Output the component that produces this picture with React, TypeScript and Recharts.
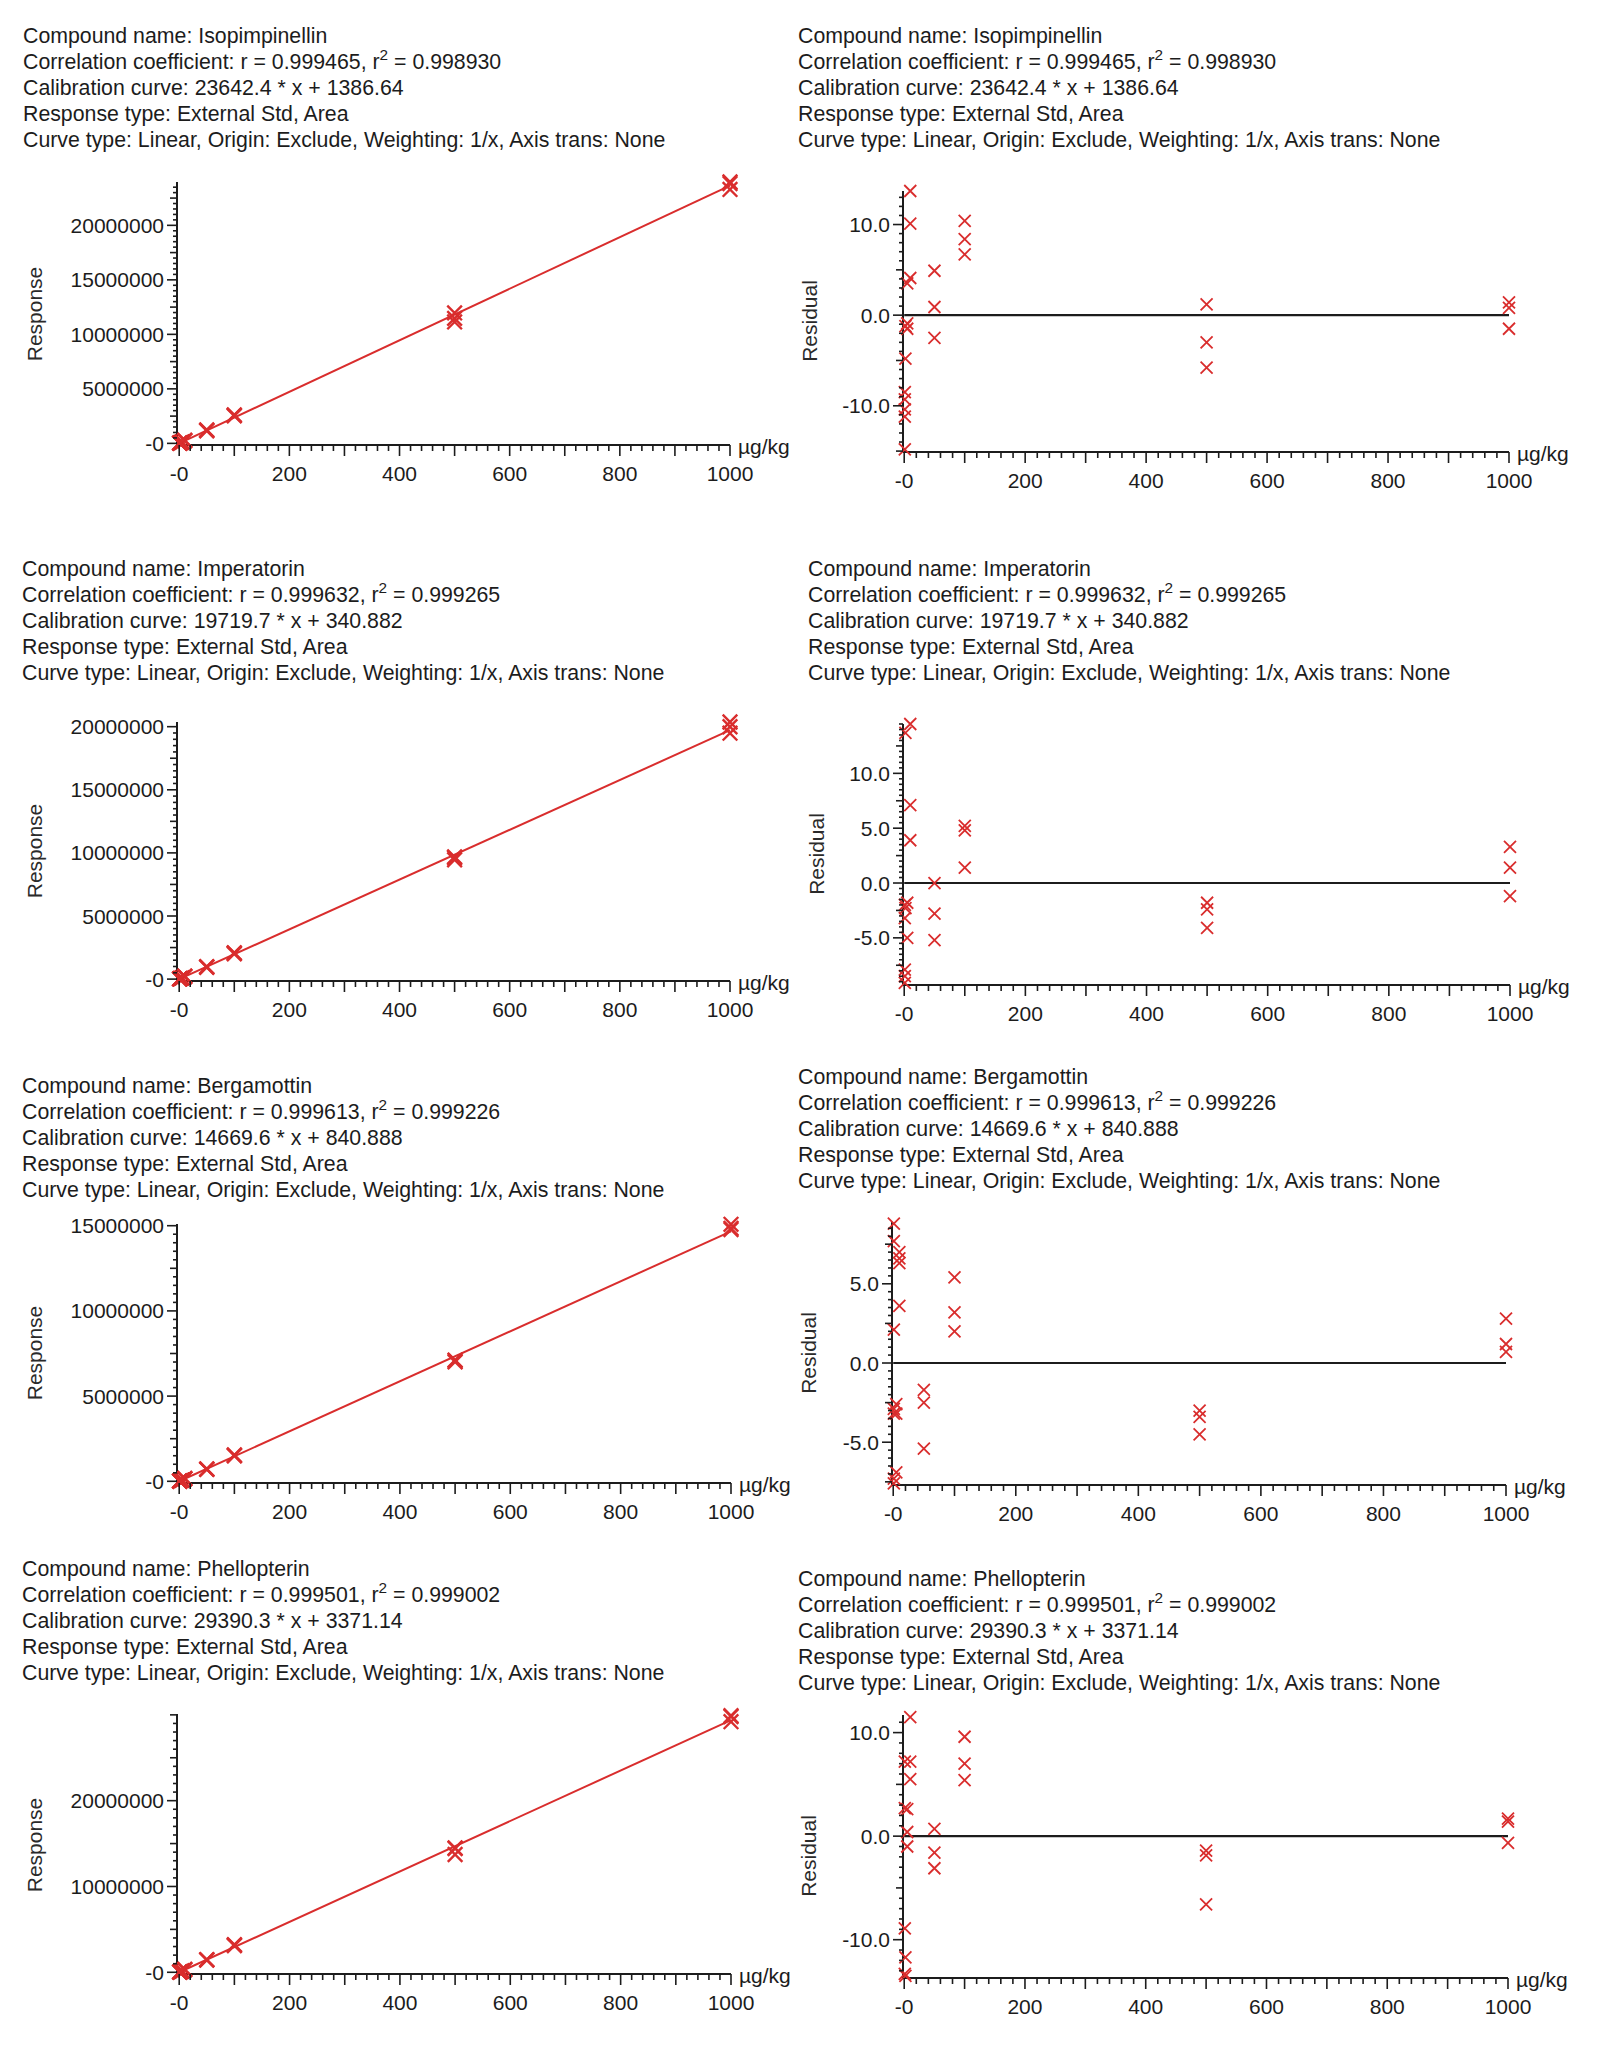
import React from 'react';
import { ScatterChart, Scatter, XAxis, YAxis, ReferenceLine } from 'recharts';

// ---------------- data ----------------
const compounds = ['Isopimpinellin', 'Imperatorin', 'Bergamottin', 'Phellopterin'];
const correlationR = ['0.999465', '0.999632', '0.999613', '0.999501'];
const correlationR2 = ['0.998930', '0.999265', '0.999226', '0.999002'];
const slopeLabels = ['23642.4', '19719.7', '14669.6', '29390.3'];
const interceptLabels = ['1386.64', '340.882', '840.888', '3371.14'];
const slopes = [23642.4, 19719.7, 14669.6, 29390.3];
const intercepts = [1386.64, 340.882, 840.888, 3371.14];

// Isopimpinellin
const isoConc = [10, 10, 10, 5, 5, 5, 2, 2, 1, 1, 1, 1, 1, 50, 50, 50, 100, 100, 100, 500, 500, 500, 1000, 1000, 1000];
const isoResponse = [270391, 261829, 247561, 123785, 118522, 117805, 48087, 46335, 22902, 22701, 22426, 22226, 21325, 1241498, 1194158, 1153919, 2611652, 2564339, 2524124, 11964458, 11467909, 11136877, 23974800, 23832937, 23289130];
const isoResidual = [13.7, 10.1, 4.1, 3.5, -0.9, -1.5, -1.2, -4.8, -8.5, -9.3, -10.4, -11.2, -14.8, 4.9, 0.9, -2.5, 10.4, 8.4, 6.7, 1.2, -3.0, -5.8, 1.4, 0.8, -1.5];

// Imperatorin
const impConc = [10, 2, 10, 10, 5, 1, 2, 1, 5, 1, 1, 1, 50, 50, 50, 100, 100, 100, 500, 500, 500, 1000, 1000, 1000];
const impResponse = [226181, 45230, 211563, 205242, 97158, 19660, 38865, 19419, 93992, 18476, 18356, 18236, 986326, 958709, 935037, 2074871, 2066982, 1999923, 9682708, 9623546, 9455923, 20370802, 19996122, 19483401];
const impResidual = [14.5, 13.7, 7.1, 3.9, -1.8, -2.0, -2.3, -3.2, -5.0, -7.9, -8.5, -9.1, 0.0, -2.8, -5.2, 5.2, 4.8, 1.4, -1.8, -2.4, -4.1, 3.3, 1.4, -1.2];

// Bergamottin
const berConc = [1, 1, 10, 10, 10, 10, 1, 5, 1, 5, 1, 5, 1, 1, 50, 50, 50, 100, 100, 100, 500, 500, 500, 1000, 1000, 1000];
const berResponse = [16875, 16704, 157865, 157274, 156832, 152848, 15836, 72260, 15061, 71815, 15014, 69070, 14378, 14332, 721838, 715963, 694668, 1547062, 1514770, 1497157, 7115572, 7086229, 7005537, 15081213, 14846486, 14773134];
const berResidual = [8.8, 7.7, 7.0, 6.6, 6.3, 3.6, 2.1, -2.6, -2.9, -3.2, -3.2, -6.9, -7.3, -7.6, -1.7, -2.5, -5.4, 5.4, 3.2, 2.0, -3.0, -3.4, -4.5, 2.8, 1.2, 0.7];

// Phellopterin
const phelConc = [10, 1, 10, 10, 1, 5, 5, 5, 1, 2, 1, 2, 50, 50, 50, 100, 100, 100, 500, 500, 500, 1000, 1000, 1000];
const phelResponse = [331461, 35120, 318678, 313624, 33646, 154231, 150924, 148820, 29845, 54880, 28404, 53761, 1483196, 1449320, 1427226, 3224872, 3148369, 3101291, 14492742, 14426600, 13728419, 29893363, 29805182, 29202612];
const phelResidual = [11.5, 7.2, 7.2, 5.5, 2.7, 2.6, 0.4, -1.0, -8.9, -11.7, -13.3, -13.5, 0.7, -1.6, -3.1, 9.6, 7.0, 5.4, -1.4, -1.85, -6.6, 1.7, 1.4, -0.65];

// tick labels
const concTickLabels = [0, 200, 400, 600, 800, 1000];
const isoResponseTicks = [0, 5000000, 10000000, 15000000, 20000000];
const impResponseTicks = [0, 5000000, 10000000, 15000000, 20000000];
const berResponseTicks = [0, 5000000, 10000000, 15000000];
const phelResponseTicks = [0, 10000000, 20000000];
const isoResidualTicks = [-10, 0, 10];
const impResidualTicks = [-5, 0, 5, 10];
const berResidualTicks = [-5, 0, 5];
const phelResidualTicks = [-10, 0, 10];

// ---------------- styling / layout ----------------
const FONT = '"Liberation Sans", Arial, Helvetica, sans-serif';
const RED = '#d92d2d';
const INK = '#1c1c1c';

type Rect = { left: number; right: number; top: number; bottom: number };
type Layout = {
  plot: Rect;
  xMin: number;
  yDomain: [number, number];
  minorStep: number;
  midStep: number;
  textX: number;
  textY: number;
  titleX: number;
  titleY: number;
};

const leftLayouts: Layout[] = [
  { plot: { left: 177, right: 730, top: 182, bottom: 445 }, xMin: -4, yDomain: [-150000, 23900000], minorStep: 500000, midStep: 2500000, textX: 23, textY: 37, titleX: 35, titleY: 314 },
  { plot: { left: 177, right: 730, top: 722, bottom: 981 }, xMin: -4, yDomain: [-150000, 20300000], minorStep: 500000, midStep: 2500000, textX: 22, textY: 570, titleX: 35, titleY: 851 },
  { plot: { left: 177, right: 731, top: 1224, bottom: 1483 }, xMin: -4, yDomain: [-100000, 15100000], minorStep: 500000, midStep: 2500000, textX: 22, textY: 1087, titleX: 35, titleY: 1353 },
  { plot: { left: 177, right: 731, top: 1714, bottom: 1974 }, xMin: -4, yDomain: [-200000, 30100000], minorStep: 1000000, midStep: 5000000, textX: 22, textY: 1570, titleX: 35, titleY: 1845 },
];

const rightLayouts: Layout[] = [
  { plot: { left: 903, right: 1509, top: 191, bottom: 452 }, xMin: -2, yDomain: [-15.1, 13.6], minorStep: 1, midStep: 5, textX: 798, textY: 37, titleX: 810, titleY: 321 },
  { plot: { left: 903, right: 1510, top: 724, bottom: 985 }, xMin: -2, yDomain: [-9.3, 14.5], minorStep: 0.5, midStep: 2.5, textX: 808, textY: 570, titleX: 817, titleY: 854 },
  { plot: { left: 892, right: 1506, top: 1222, bottom: 1485 }, xMin: -2, yDomain: [-7.7, 8.9], minorStep: 0.5, midStep: 2.5, textX: 798, textY: 1078, titleX: 809, titleY: 1353 },
  { plot: { left: 903, right: 1508, top: 1715, bottom: 1978 }, xMin: -2, yDomain: [-13.7, 11.7], minorStep: 1, midStep: 5, textX: 798, textY: 1580, titleX: 809, titleY: 1856 },
];

const concs = [isoConc, impConc, berConc, phelConc];
const responses = [isoResponse, impResponse, berResponse, phelResponse];
const residuals = [isoResidual, impResidual, berResidual, phelResidual];
const responseTicks = [isoResponseTicks, impResponseTicks, berResponseTicks, phelResponseTicks];
const residualTicks = [isoResidualTicks, impResidualTicks, berResidualTicks, phelResidualTicks];

// ---------------- helpers ----------------
function stepTicks(lo: number, hi: number, step: number): number[] {
  const out: number[] = [];
  const k0 = Math.ceil(lo / step - 1e-9);
  const k1 = Math.floor(hi / step + 1e-9);
  for (let k = k0; k <= k1; k++) out.push(Math.round(k * step * 1e6) / 1e6);
  return out;
}
const isMultiple = (v: number, step: number) => Math.abs(v / step - Math.round(v / step)) < 1e-6;
const inList = (list: number[], v: number) => list.some((l) => Math.abs(l - v) < 1e-9);

const xTickValues = stepTicks(0, 1000, 20);

const renderXTick = (props: any) => {
  const { x, y, payload } = props;
  const v = payload.value as number;
  const labeled = inList(concTickLabels, v);
  const len = labeled || isMultiple(v, 100) ? 11 : 6;
  return (
    <g>
      <line x1={x} x2={x} y1={y} y2={y + len} stroke={INK} strokeWidth={1.6} />
      {labeled && (
        <text x={x} y={y + 36} textAnchor="middle" fontSize={21} fontFamily={FONT} fill={INK}>
          {v === 0 ? '-0' : String(v)}
        </text>
      )}
    </g>
  );
};

const makeYTick = (labels: number[], midStep: number, fmt: (v: number) => string) => (props: any) => {
  const { x, y, payload } = props;
  const v = payload.value as number;
  const labeled = inList(labels, v);
  const len = labeled ? 10 : isMultiple(v, midStep) ? 7 : 4;
  return (
    <g>
      <line x1={x - len} x2={x} y1={y} y2={y} stroke={INK} strokeWidth={1.6} />
      {labeled && (
        <text x={x - 13} y={y + 7.5} textAnchor="end" fontSize={21} fontFamily={FONT} fill={INK}>
          {fmt(v)}
        </text>
      )}
    </g>
  );
};

const makeCross = (half: number, sw: number) => (props: any) => {
  const { cx, cy } = props;
  if (cx == null || cy == null) return <g />;
  return (
    <path
      d={`M${cx - half},${cy - half}L${cx + half},${cy + half}M${cx - half},${cy + half}L${cx + half},${cy - half}`}
      stroke={RED}
      strokeWidth={sw}
      fill="none"
    />
  );
};

const fmtResponse = (v: number) => (v === 0 ? '-0' : String(v));
const fmtResidual = (v: number) => (Math.abs(v) < 1e-9 ? '0.0' : v.toFixed(1));

// ---------------- components ----------------
function InfoBlock({ i, x, y }: { i: number; x: number; y: number }) {
  const lineH = 25.6;
  return (
    <div
      style={{
        position: 'absolute',
        left: x,
        top: y - lineH / 2,
        fontFamily: FONT,
        fontSize: 21.3,
        lineHeight: `${lineH}px`,
        color: INK,
        whiteSpace: 'nowrap',
      }}
    >
      <div>Compound name: {compounds[i]}</div>
      <div>
        Correlation coefficient: r = {correlationR[i]}, r
        <span style={{ fontSize: '0.72em', position: 'relative', top: '-0.55em' }}>2</span> = {correlationR2[i]}
      </div>
      <div>
        Calibration curve: {slopeLabels[i]} * x + {interceptLabels[i]}
      </div>
      <div>Response type: External Std, Area</div>
      <div>Curve type: Linear, Origin: Exclude, Weighting: 1/x, Axis trans: None</div>
    </div>
  );
}

function AxisTitle({ text, x, y }: { text: string; x: number; y: number }) {
  return (
    <div
      style={{
        position: 'absolute',
        left: x,
        top: y,
        transform: 'translate(-50%, -50%) rotate(-90deg)',
        fontFamily: FONT,
        fontSize: 21,
        lineHeight: '24px',
        color: '#2a2a2a',
        whiteSpace: 'nowrap',
      }}
    >
      {text}
    </div>
  );
}

function Plot({
  layout,
  points,
  yLabels,
  fmt,
  kind,
  idx,
}: {
  layout: Layout;
  points: { x: number; y: number }[];
  yLabels: number[];
  fmt: (v: number) => string;
  kind: 'response' | 'residual';
  idx: number;
}) {
  const ml = 190;
  const mr = 100;
  const mt = 20;
  const mb = 60;
  const { plot } = layout;
  const w = plot.right - plot.left + ml + mr;
  const h = plot.bottom - plot.top + mt + mb;
  const yTicks = stepTicks(layout.yDomain[0], layout.yDomain[1], layout.minorStep);
  const isResp = kind === 'response';
  return (
    <div style={{ position: 'absolute', left: plot.left - ml, top: plot.top - mt }}>
      <ScatterChart width={w} height={h} margin={{ left: ml - 1, right: mr, top: mt, bottom: mb - 1 }}>
        <XAxis
          type="number"
          dataKey="x"
          domain={[layout.xMin, 1000]}
          ticks={xTickValues}
          interval={0}
          tickSize={0}
          tickMargin={0}
          height={1}
          tickLine={false}
          tick={renderXTick}
          axisLine={{ stroke: INK, strokeWidth: 2 }}
          label={{ value: 'µg/kg', position: 'right', offset: 8, fill: INK, fontSize: 21, fontFamily: FONT, dy: 1 }}
        />
        <YAxis
          type="number"
          dataKey="y"
          domain={layout.yDomain}
          ticks={yTicks}
          interval={0}
          tickSize={0}
          tickMargin={0}
          width={1}
          tickLine={false}
          tick={makeYTick(yLabels, layout.midStep, fmt)}
          axisLine={{ stroke: INK, strokeWidth: 2 }}
        />
        {isResp ? (
          <ReferenceLine
            segment={[
              { x: 0, y: intercepts[idx] },
              { x: 1000, y: slopes[idx] * 1000 + intercepts[idx] },
            ]}
            stroke={RED}
            strokeWidth={2}
            ifOverflow="visible"
          />
        ) : (
          <ReferenceLine
            segment={[
              { x: 0, y: 0 },
              { x: 1000, y: 0 },
            ]}
            stroke={INK}
            strokeWidth={2.2}
            ifOverflow="visible"
          />
        )}
        <Scatter
          data={points}
          isAnimationActive={false}
          shape={isResp ? makeCross(7.3, 2.4) : makeCross(6, 1.8)}
        />
      </ScatterChart>
    </div>
  );
}

export default function App() {
  return (
    <div
      style={{
        position: 'absolute',
        left: 0,
        top: 0,
        width: 1598,
        height: 2048,
        background: '#ffffff',
        overflow: 'hidden',
      }}
    >
      {compounds.map((_, i) => {
        const L = leftLayouts[i];
        const R = rightLayouts[i];
        const respPts = concs[i].map((c, k) => ({ x: c, y: responses[i][k] }));
        const residPts = concs[i].map((c, k) => ({ x: c, y: residuals[i][k] }));
        return (
          <React.Fragment key={i}>
            <InfoBlock i={i} x={L.textX} y={L.textY} />
            <InfoBlock i={i} x={R.textX} y={R.textY} />
            <Plot layout={L} points={respPts} yLabels={responseTicks[i]} fmt={fmtResponse} kind="response" idx={i} />
            <Plot layout={R} points={residPts} yLabels={residualTicks[i]} fmt={fmtResidual} kind="residual" idx={i} />
            <AxisTitle text="Response" x={L.titleX} y={L.titleY} />
            <AxisTitle text="Residual" x={R.titleX} y={R.titleY} />
          </React.Fragment>
        );
      })}
    </div>
  );
}
